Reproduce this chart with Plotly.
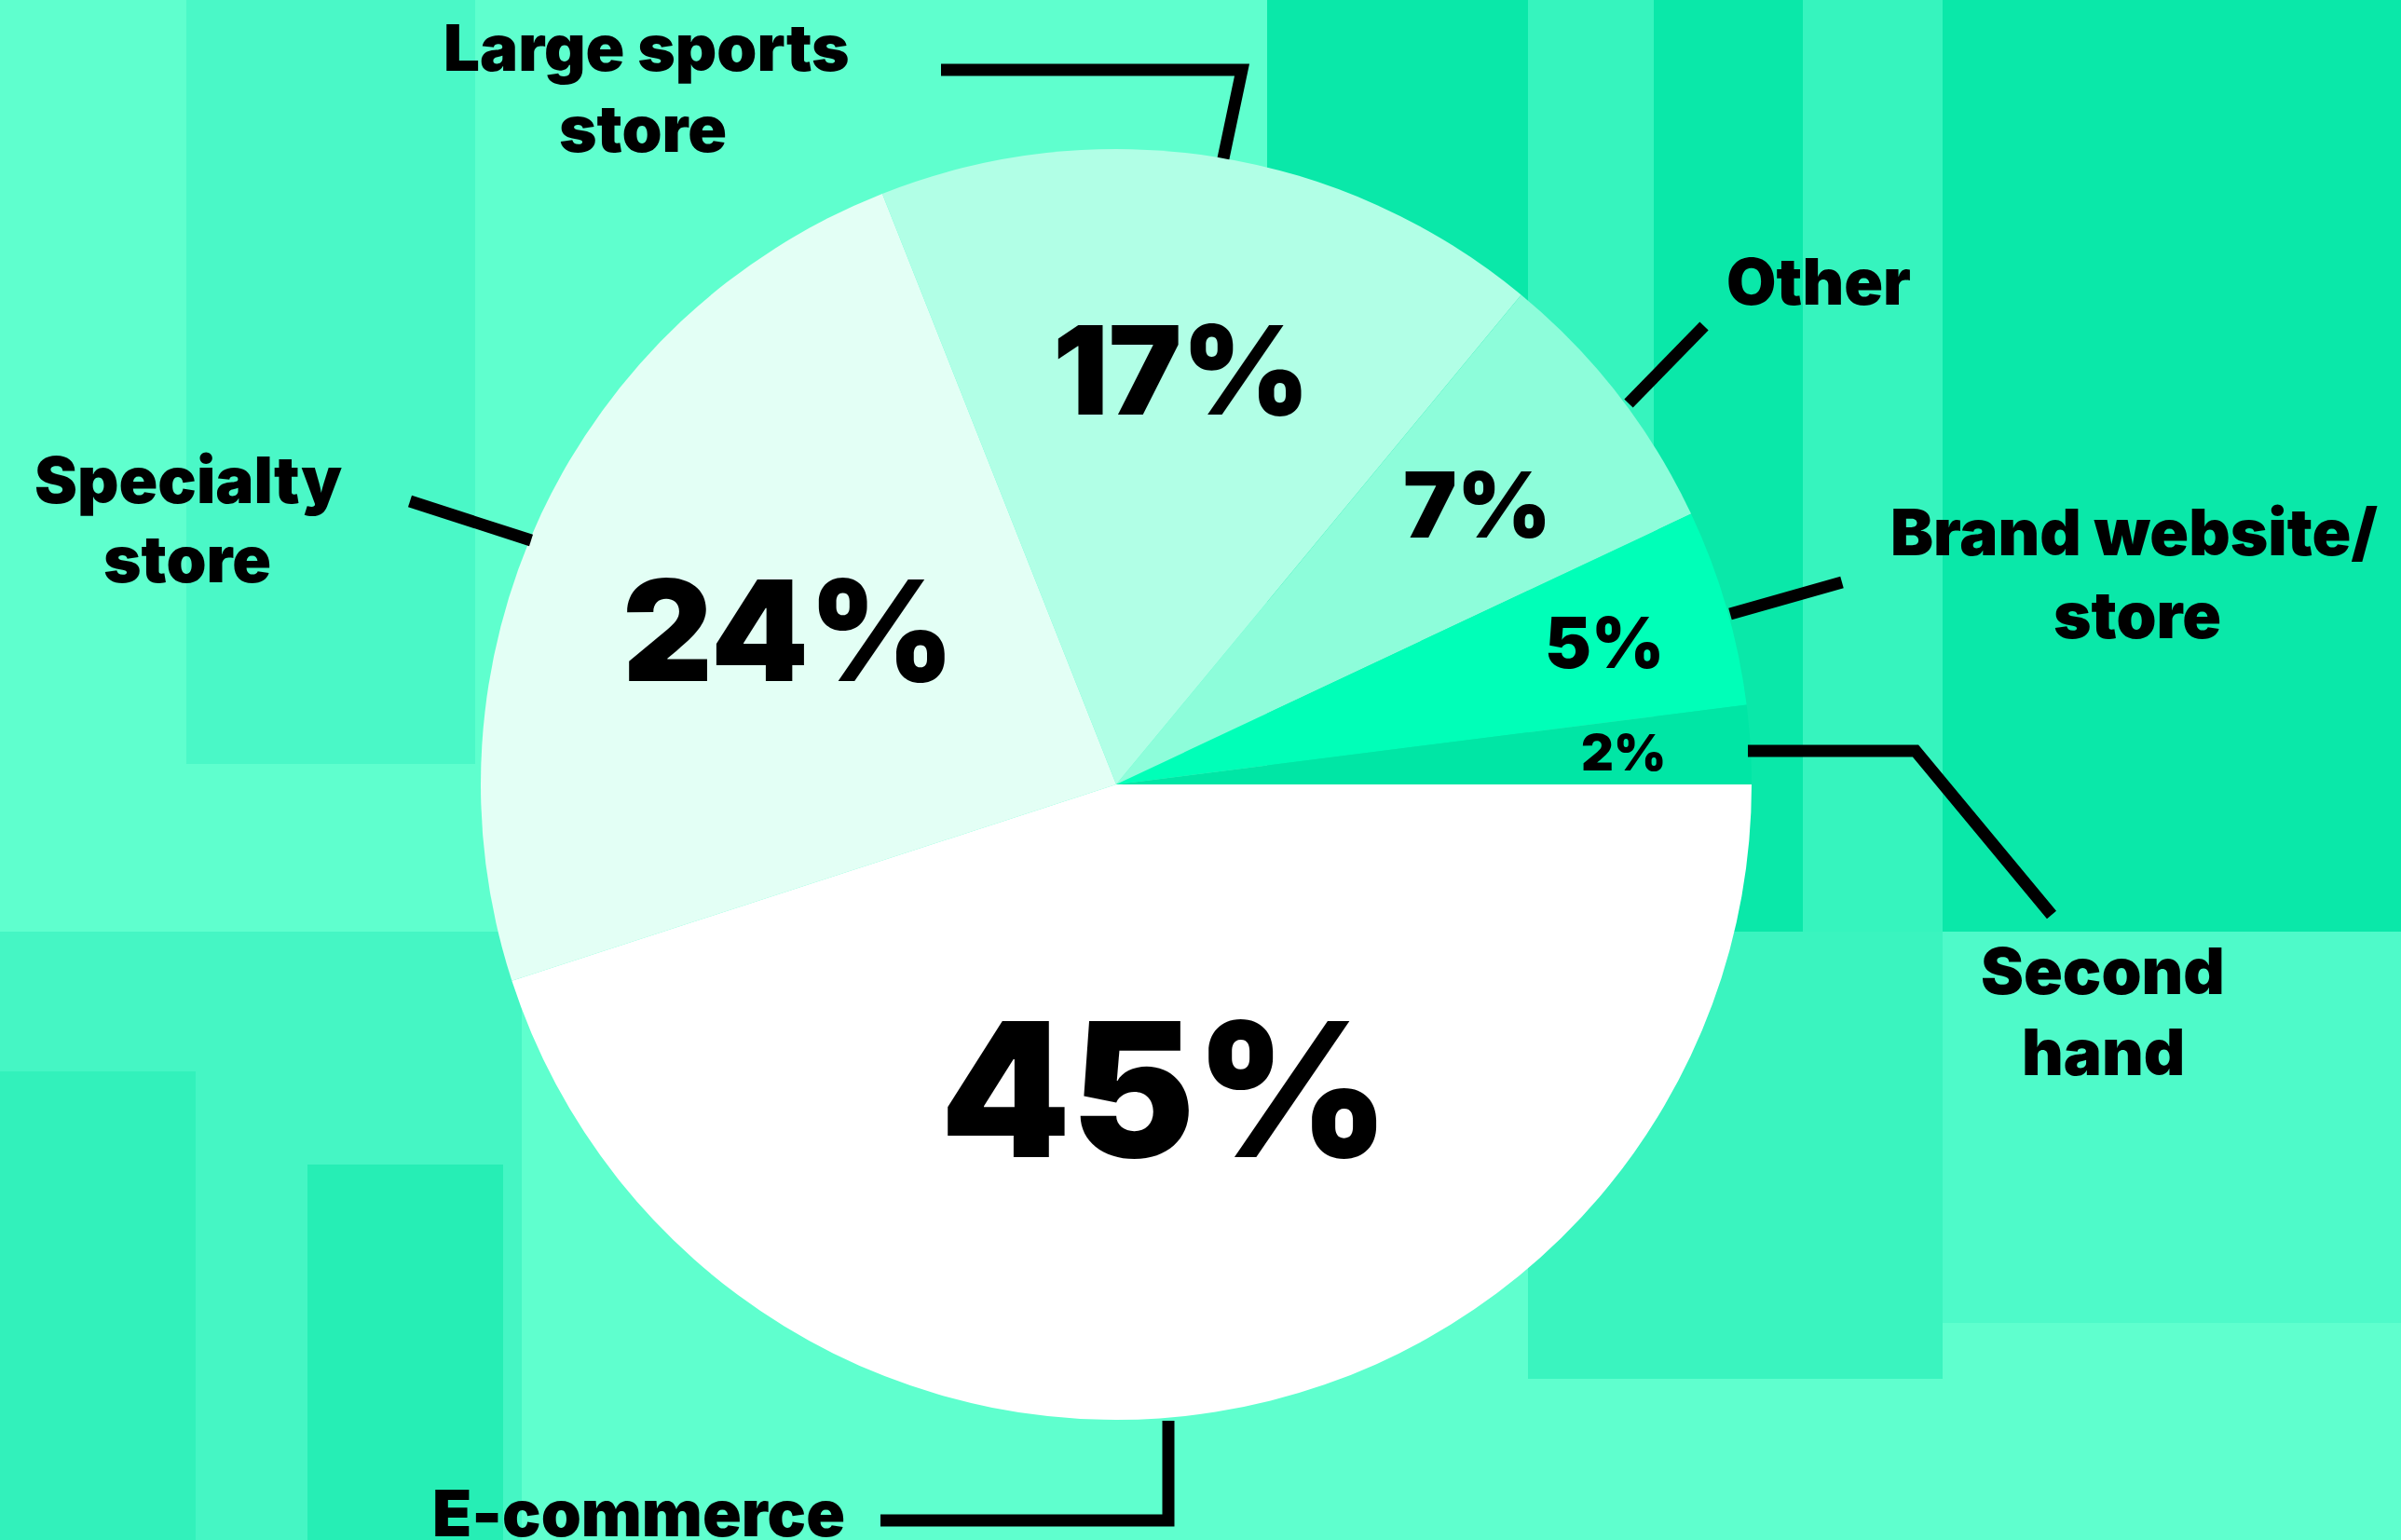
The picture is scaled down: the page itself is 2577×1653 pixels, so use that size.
import math
import plotly.graph_objects as go

# ---------------- data ----------------
categories = ["E-commerce", "Specialty store", "Large sports store", "Other",
              "Brand website/store", "Second hand"]
shares = [45, 24, 17, 7, 5, 2]
slice_colors = ["#FFFFFF", "#E3FFF5", "#B1FFE6", "#8DFDDA", "#00FFB8", "#00E6A5"]

outer_label_lines = [
    ["E-commerce"],
    ["Specialty", "store"],
    ["Large sports", "store"],
    ["Other"],
    ["Brand website/", "store"],
    ["Second", "hand"],
]

# ---------------- layout constants (pixels) ----------------
W, H = 2577, 1653
CX, CY, R = 1198, 842, 682
BG = "#5FFFCE"
FONT = "Inter"

pct_font_sizes = [200, 150, 132, 97, 75, 54]
pct_radial = [0.485, 0.57, 0.66, 0.72, 0.80, 0.80]
label_font_size = 69

label_positions = [
    [(685, 1624)],
    [(202, 515), (201, 600)],
    [(694, 51), (690, 138)],
    [(1952, 302)],
    [(2290, 571), (2294, 660)],
    [(2257, 1042), (2257, 1129)],
]

leader_paths = [
    [(945, 1632), (1254, 1632), (1254, 1525)],
    [(440, 538), (570, 580)],
    [(1010, 75), (1333, 75), (1313, 170)],
    [(1829, 350), (1748, 433)],
    [(1977, 625), (1857, 659)],
    [(1876, 806), (2056, 806), (2202, 982)],
]

bg_zones = [
    ((1360, 0, 2577, 1000), "#0AE8A9"),
    ((1640, 0, 1775, 1000), "#36F4BE"),
    ((1935, 0, 2085, 1000), "#36F4BE"),
    ((2085, 1000, 2577, 1420), "#4EFAC9"),
    ((1640, 1000, 2085, 1480), "#3AF4BF"),
    ((200, 0, 510, 820), "#4AF8C7"),
    ((0, 1000, 560, 1653), "#45F6C4"),
    ((330, 1250, 540, 1653), "#26EEB5"),
    ((0, 1150, 210, 1653), "#32F1BB"),
]


def px(x):
    return x / W


def py(y):
    return 1 - y / H


fig = go.Figure(
    go.Pie(
        labels=categories,
        values=shares,
        sort=False,
        direction="clockwise",
        rotation=90,
        marker=dict(colors=slice_colors, line=dict(width=0)),
        textinfo="none",
        hoverinfo="skip",
        showlegend=False,
        domain=dict(x=[px(CX - R), px(CX + R)], y=[py(CY + R), py(CY - R)]),
    )
)

shapes = []
for (x0, y0, x1, y1), col in bg_zones:
    shapes.append(dict(type="rect", xref="paper", yref="paper",
                       x0=px(x0), x1=px(x1), y0=py(y1), y1=py(y0),
                       fillcolor=col, line=dict(width=0), layer="below"))

for pts in leader_paths:
    d = "M " + " L ".join(f"{px(x)},{py(y)}" for x, y in pts)
    shapes.append(dict(type="path", xref="paper", yref="paper", path=d,
                       line=dict(color="black", width=13), layer="above"))

annotations = []
total = sum(shares)
cum = 0
for v, fs, f in zip(shares, pct_font_sizes, pct_radial):
    mid = math.radians(360 * (cum + v / 2) / total)
    cum += v
    x = CX + f * R * math.cos(mid)
    y = CY + f * R * math.sin(mid)
    annotations.append(dict(x=px(x), y=py(y), xref="paper", yref="paper",
                            text=f"{v}%", showarrow=False,
                            xanchor="center", yanchor="middle",
                            font=dict(family=FONT, size=fs, color="black", weight=900)))

for lines, poss in zip(outer_label_lines, label_positions):
    for t, (x, y) in zip(lines, poss):
        annotations.append(dict(x=px(x), y=py(y), xref="paper", yref="paper",
                                text=t, showarrow=False,
                                xanchor="center", yanchor="middle",
                                font=dict(family=FONT, size=label_font_size,
                                          color="black", weight=900)))

fig.update_layout(
    width=W, height=H,
    margin=dict(l=0, r=0, t=0, b=0),
    paper_bgcolor=BG, plot_bgcolor=BG,
    shapes=shapes, annotations=annotations,
)

fig.write_html("out.html", config={"displayModeBar": False},
               post_script="document.body.style.margin='0px';")
